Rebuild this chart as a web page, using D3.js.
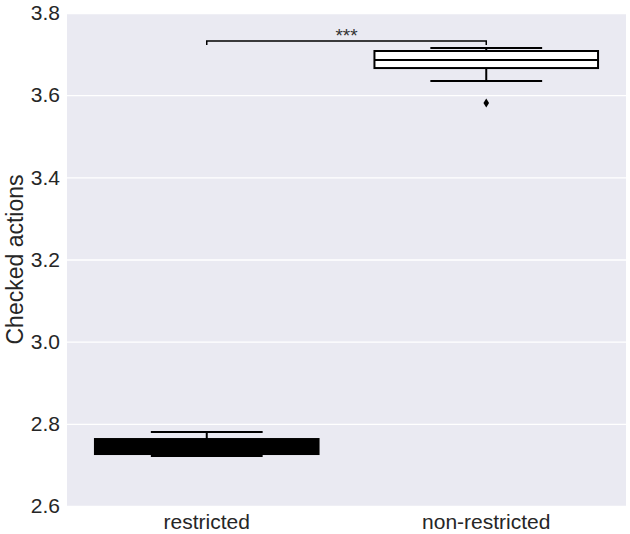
<!DOCTYPE html>
<html><head><meta charset="utf-8">
<script src="https://cdn.jsdelivr.net/npm/d3@7"></script>
<style>body{margin:0;background:#fff;}svg{display:block;}</style>
</head><body>
<svg id="chart" width="630" height="534"></svg>
<script>
const categories = ["restricted", "non-restricted"];
// box statistics per category
const whiskerLow = [2.722, 3.6345];
const q1Values = [2.7265, 3.666];
const medians = [2.742, 3.6856];
const q3Values = [2.763, 3.7075];
const whiskerHigh = [2.780, 3.715];
const outliers = [[], [3.581]];
const boxFills = ["#000000", "#ffffff"];
const yTicks = [2.6, 2.8, 3.0, 3.2, 3.4, 3.6, 3.8];
const bracketValue = 3.732;
const bracketLabel = "***";

const FONT = "Liberation Sans, Arial, sans-serif";
const svg = d3.select("#chart");
const m = {left: 67, right: 4, top: 13, bottom: 28};
const W = 630, H = 534;
const x = d3.scaleBand().domain(categories).range([m.left, W - m.right]);
const y = d3.scaleLinear().domain([2.6, 3.8]).range([H - m.bottom, m.top]);

svg.append("rect").attr("x", m.left).attr("y", m.top)
  .attr("width", W - m.right - m.left).attr("height", H - m.bottom - m.top)
  .attr("fill", "#EAEAF2");

const yAxis = svg.append("g").attr("transform", `translate(${m.left},0)`)
  .call(d3.axisLeft(y).tickValues(yTicks).tickFormat(d3.format(".1f")).tickSize(-(W - m.right - m.left)).tickPadding(7));
yAxis.select(".domain").remove();
yAxis.selectAll(".tick line").attr("stroke", "#fff").attr("stroke-width", 1.3);
yAxis.selectAll(".tick text").attr("fill", "#262626").attr("font-size", "21px").attr("font-family", FONT);

const xAxis = svg.append("g").attr("transform", `translate(0,${H - m.bottom})`)
  .call(d3.axisBottom(x).tickSize(0).tickPadding(8));
xAxis.select(".domain").remove();
xAxis.selectAll(".tick text").attr("fill", "#262626").attr("font-size", "21px").attr("font-family", FONT);

svg.append("text").attr("transform", `translate(23,${(m.top + H - m.bottom) / 2}) rotate(-90)`)
  .attr("text-anchor", "middle").attr("fill", "#262626")
  .attr("font-size", "23px").attr("font-family", FONT)
  .text("Checked actions");

const bw = x.bandwidth() * 0.8;
categories.forEach((c, i) => {
  const cx = x(c) + x.bandwidth() / 2;
  const g = svg.append("g").attr("stroke", "#000").attr("stroke-width", 2);
  g.append("line").attr("x1", cx).attr("x2", cx).attr("y1", y(whiskerLow[i])).attr("y2", y(q1Values[i]));
  g.append("line").attr("x1", cx).attr("x2", cx).attr("y1", y(q3Values[i])).attr("y2", y(whiskerHigh[i]));
  g.append("line").attr("x1", cx - bw / 4).attr("x2", cx + bw / 4).attr("y1", y(whiskerLow[i])).attr("y2", y(whiskerLow[i]));
  g.append("line").attr("x1", cx - bw / 4).attr("x2", cx + bw / 4).attr("y1", y(whiskerHigh[i])).attr("y2", y(whiskerHigh[i]));
  g.append("rect").attr("x", cx - bw / 2).attr("width", bw)
    .attr("y", y(q3Values[i])).attr("height", y(q1Values[i]) - y(q3Values[i]))
    .attr("fill", boxFills[i]);
  g.append("line").attr("x1", cx - bw / 2).attr("x2", cx + bw / 2).attr("y1", y(medians[i])).attr("y2", y(medians[i]));
  outliers[i].forEach(v => {
    const py = y(v);
    svg.append("path").attr("d", `M${cx},${py - 4.5}L${cx + 2.8},${py}L${cx},${py + 4.5}L${cx - 2.8},${py}Z`).attr("fill", "#000");
  });
});

const x1 = x(categories[0]) + x.bandwidth() / 2, x2 = x(categories[1]) + x.bandwidth() / 2;
const by = y(bracketValue);
svg.append("path").attr("d", `M${x1},${by + 4}V${by}H${x2}V${by + 4}`)
  .attr("fill", "none").attr("stroke", "#000").attr("stroke-width", 1.5);
svg.append("text").attr("x", (x1 + x2) / 2).attr("y", by + 1).attr("text-anchor", "middle")
  .attr("fill", "#333").attr("font-size", "19px").attr("font-family", FONT)
  .text(bracketLabel);
</script>
</body></html>
